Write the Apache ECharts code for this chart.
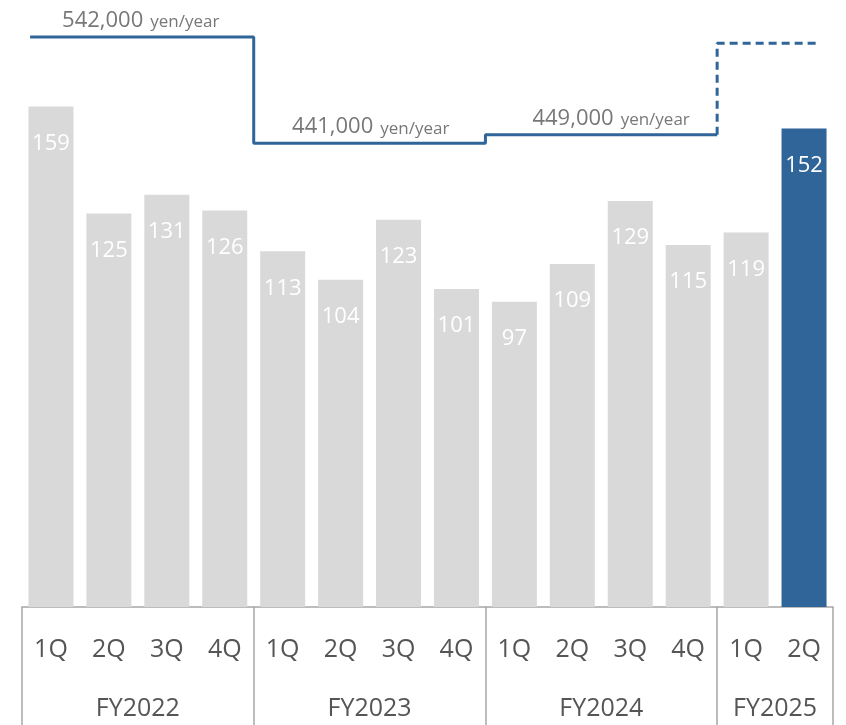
<!DOCTYPE html>
<html>
<head>
<meta charset="utf-8">
<script src="https://cdn.jsdelivr.net/npm/echarts@6/dist/echarts.min.js"></script>
<style>
  html, body { margin: 0; padding: 0; background: #fff; }
  #chart { width: 846px; height: 725px; }
</style>
</head>
<body>
<div id="chart"></div>
<script>
// Quarterly values, grouped by fiscal year
const fiscalYears = ['FY2022', 'FY2023', 'FY2024', 'FY2025'];
const quartersPerYear = [4, 4, 4, 2];
const quarters = ['1Q', '2Q', '3Q', '4Q', '1Q', '2Q', '3Q', '4Q', '1Q', '2Q', '3Q', '4Q', '1Q', '2Q'];
const values = [159, 125, 131, 126, 113, 104, 123, 101, 97, 109, 129, 115, 119, 152];

// Annual level per fiscal year (yen/year); the last one is a forecast, shown dashed
const annualYen = [542000, 441000, 449000];
const forecastYen = 536000;

const FONT = '"Open Sans", "Noto Sans", sans-serif';
const GREY = '#d9d9d9';
const BLUE = '#2f6598';
const TEXT = '#555555';
const RULE = '#a6a6a6';

// Year boundaries along the quarter axis (in quarter units)
const bounds = [0];
quartersPerYear.forEach(n => bounds.push(bounds[bounds.length - 1] + n));
const total = bounds[bounds.length - 1];
const yearCenters = fiscalYears.map((_, i) => (bounds[i] + bounds[i + 1]) / 2);

const startX = 0.14, endX = total - 0.28;

// Solid steps for the reported years
const solid = [];
annualYen.forEach((v, i) => {
  solid.push([i === 0 ? startX : bounds[i], v / 1000]);
  solid.push([bounds[i + 1], v / 1000]);
});
// Dashed step for the forecast year
const lastReported = annualYen[annualYen.length - 1] / 1000;
const dashed = [
  [bounds[annualYen.length], lastReported],
  [bounds[annualYen.length], forecastYen / 1000],
  [endX, forecastYen / 1000]
];
// Label anchors above each solid step
const labelX = [2.05, 6.02, 10.17];
const stepLabels = annualYen.map((v, i) => ({ value: [labelX[i], v / 1000], yen: v }));

const chart = echarts.init(document.getElementById('chart'), null, { renderer: 'canvas' });
chart.setOption({
  animation: false,
  textStyle: { fontFamily: FONT },
  grid: { left: 22, right: 13, top: 9, bottom: 118, outerBoundsMode: 'none', containLabel: false },
  xAxis: [
    {
      type: 'category',
      data: quarters,
      axisLine: { show: true, lineStyle: { color: RULE, width: 1.5 } },
      axisTick: { show: false },
      axisLabel: { color: TEXT, fontSize: 25, margin: 30, fontFamily: FONT }
    },
    {
      type: 'value',
      min: 0,
      max: total,
      position: 'bottom',
      splitLine: { show: false },
      axisLine: { show: false },
      axisTick: {
        show: true,
        customValues: bounds,
        length: 118,
        lineStyle: { color: RULE, width: 1.5 }
      },
      axisLabel: {
        customValues: yearCenters,
        formatter: v => {
          const i = yearCenters.findIndex(c => Math.abs(c - v) < 1e-6);
          return i >= 0 ? fiscalYears[i] : '';
        },
        color: TEXT,
        fontSize: 25,
        margin: 89,
        fontFamily: FONT
      }
    }
  ],
  yAxis: [
    { type: 'value', min: 0, max: 190, show: false },
    { type: 'value', min: 0, max: 568.6, show: false }
  ],
  series: [
    {
      type: 'bar',
      data: values.map((v, i) => ({
        value: v,
        itemStyle: { color: i === values.length - 1 ? BLUE : GREY }
      })),
      barWidth: 45,
      label: {
        show: true,
        position: 'insideTop',
        distance: 26,
        color: '#ffffff',
        fontSize: 22,
        fontFamily: FONT
      }
    },
    {
      type: 'line',
      xAxisIndex: 1,
      yAxisIndex: 1,
      data: solid,
      symbol: 'none',
      lineStyle: { color: BLUE, width: 3 }
    },
    {
      type: 'line',
      xAxisIndex: 1,
      yAxisIndex: 1,
      data: dashed,
      symbol: 'none',
      lineStyle: { color: BLUE, width: 3, type: [8, 5] }
    },
    {
      type: 'scatter',
      xAxisIndex: 1,
      yAxisIndex: 1,
      data: stepLabels,
      symbolSize: 0,
      label: {
        show: true,
        position: 'top',
        distance: 5,
        formatter: p => '{a|' + p.data.yen.toLocaleString('en-US') + '}{b|yen/year}',
        rich: {
          a: { fontSize: 22, color: TEXT, fontFamily: FONT },
          b: { fontSize: 17, color: TEXT, fontFamily: FONT, padding: [3, 0, 0, 7] }
        }
      }
    }
  ]
});
</script>
</body>
</html>
